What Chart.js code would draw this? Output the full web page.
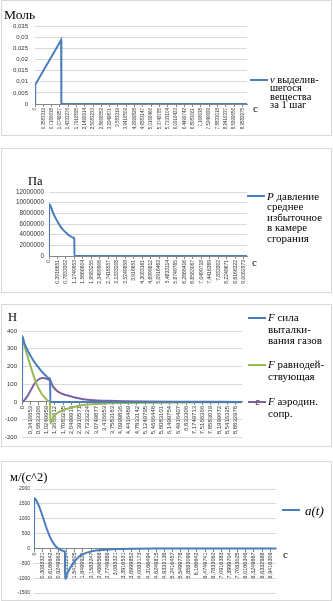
<!DOCTYPE html>
<html>
<head>
<meta charset="utf-8">
<script src="https://cdn.jsdelivr.net/npm/chart.js@4.4.0/dist/chart.umd.min.js"></script>
<style>
  body { margin: 0; width: 333px; height: 601px; background: #fff; position: relative; overflow: hidden; }
  .panel { position: absolute; border: 1px solid #d9d9d9; background: #fff; }
  .panel canvas { position: absolute; left: 0; top: 0; }
  .dash { position: absolute; width: 18px; height: 2px; }
  .txt { position: absolute; white-space: nowrap; font-family: "Liberation Serif", serif; color: #000; }
  .txt i { font-style: italic; }
</style>
</head>
<body>
<div class="panel" id="p1" style="left:1px;top:0;width:329px;height:134px"><canvas id="c1" width="329" height="134"></canvas></div>
<div class="panel" id="p2" style="left:1px;top:148px;width:329px;height:143px"><canvas id="c2" width="329" height="143"></canvas></div>
<div class="panel" id="p3" style="left:1px;top:304px;width:329px;height:141px"><canvas id="c3" width="329" height="141"></canvas></div>
<div class="panel" id="p4" style="left:1px;top:461px;width:329px;height:138px"><canvas id="c4" width="329" height="138"></canvas></div>
<script>
// last time step of the calculation, s
const T_END = 9.1583;

// time labels shown under each axis
const tLabels1 = ['0', '0,3583319', '0,7166638', '1,0749957', '1,4333276', '1,7916595', '2,1499914',
  '2,5083233', '2,8666552', '3,2249871', '3,583319', '3,9416509', '4,2999828', '4,6583147', '5,0166466',
  '5,3749785', '5,7333104', '6,0916423', '6,4499742', '6,8083061', '7,166638', '7,5249699', '7,8833018',
  '8,2416337', '8,5999656', '8,9582975'];
const tLabels2 = ['0', '0,3916651', '0,7833302', '1,1749953', '1,5666604', '1,9583255', '2,3499906',
  '2,7416557', '3,1333208', '3,5249859', '3,916651', '4,3083161', '4,6999812', '5,0916463', '5,4833114',
  '5,8749765', '6,2666416', '6,6583067', '7,0499718', '7,4416369', '7,833302', '8,2249671', '8,6166322',
  '9,0082973'];
const tLabels3 = ['0', '0,3416653', '0,6833306', '1,0249959', '1,3666612', '1,7083265', '2,0499918',
  '2,3916571', '2,7333224', '3,0749877', '3,416653', '3,7583183', '4,0999836', '4,4416489', '4,7833142',
  '5,1249795', '5,4666448', '5,8083101', '6,1499754', '6,4916407', '6,833306', '7,1749713', '7,5166366',
  '7,8583019', '8,1999672', '8,5416325', '8,8832978'];
const tLabels4 = ['0', '0,3083321', '0,6166642', '0,9249963', '1,2333284', '1,5416605', '1,8499926',
  '2,1583247', '2,4666568', '2,7749889', '3,083321', '3,3916531', '3,6999852', '4,0083173', '4,3166494',
  '4,6249815', '4,9333136', '5,2416457', '5,5499778', '5,8583099', '6,166642', '6,4749741', '6,7833062',
  '7,0916383', '7,3999704', '7,7083025', '8,0166346', '8,3249667', '8,6332988', '8,9416309'];

// substance released per step, mol
const vT = [0, 0.0083, 1.13, 1.1383, T_END];
const vMol = [0, 0.0086, 0.0287, 0, 0];

// mean excess pressure in the chamber, Pa
const pT = [0, 0.0083, 0.1, 0.2, 0.3, 0.4, 0.5, 0.6, 0.7, 0.8, 0.9, 1.0, 1.1, 1.17, 1.1783, T_END];
const pPa = [0, 9750000, 9100000, 8000000, 7150000, 6400000, 5700000, 5150000, 4700000, 4300000,
  3950000, 3700000, 3450000, 3300000, 0, 0];

// forces, N
const fT = [0, 0.0083, 0.1, 0.2, 0.3, 0.4, 0.5, 0.6, 0.7, 0.8, 0.9, 1.0, 1.1, 1.17, 1.1783,
  1.3, 1.5, 1.7, 1.9, 2.2, 2.5, 3.0, 3.6, 4.3, 5.2, 6.5, T_END];
const fThrust = [0, 370, 330, 300, 273, 250, 228, 209, 192, 175, 160, 147, 136, 128, 0,
  0, 0, 0, 0, 0, 0, 0, 0, 0, 0, 0, 0];
const fResult = [0, 372, 318, 272, 226, 182, 140, 103, 74, 50, 31, 16, 6, 2, -122,
  -87, -60, -47, -38, -27, -19, -12, -8, -5.5, -4, -3, -2.3];
const fDrag = [0, 0, 10, 27, 50, 75, 98, 116, 128, 134, 135, 132, 126, 121, 120,
  85, 58, 45, 36, 25, 17, 10, 6, 3.5, 2, 1, 0.3];

// acceleration, m/s^2
const aT = [0, 0.0083, 0.1, 0.2, 0.3, 0.4, 0.5, 0.6, 0.7, 0.8, 0.9, 1.0, 1.1, 1.17, 1.1783,
  1.25, 1.35, 1.5, 1.7, 1.9, 2.2, 2.6, 3.1, 3.8, 4.6, 6.0, T_END];
const aVal = [0, 1700, 1590, 1400, 1150, 880, 620, 400, 225, 95, 10, -40, -80, -110, -1040,
  -860, -680, -480, -280, -175, -95, -50, -20, -8, -3, -1, 0];

// legend captions: italic symbol + wrapped text
const vName = { sym: 'v', lines: ['выделив-', 'шегося', 'вещества', 'за 1 шаг'] };
const pName = { sym: 'P', lines: ['давление', 'среднее', 'избыточное', 'в камере', 'сгорания'] };
const thrustName = { sym: 'F', lines: ['сила', 'выталки-', 'вания газов'] };
const resultName = { sym: 'F', lines: ['равнодей-', 'ствующая'] };
const dragName = { sym: 'F', lines: ['аэродин.', 'сопр.'] };
const aName = { sym: 'a(t)', lines: [''] };

const BLUE = '#4A7EBB';
const GREEN = '#98B954';
const PURPLE = '#7D60A0';

const num = s => parseFloat(s.replace(',', '.'));
const comma = v => String(+v.toFixed(6)).replace('.', ',');

function series(name, xs, ys, color, smooth) {
  return {
    label: name.sym + ' ' + name.lines.join(' '),
    data: xs.map((x, i) => ({ x: x, y: ys[i] })),
    borderColor: color,
    backgroundColor: color,
    borderWidth: 2,
    pointRadius: 0,
    fill: false,
    cubicInterpolationMode: smooth ? 'monotone' : 'default',
    tension: 0
  };
}

// unit captions: y unit in the corner, x unit after the end of the time axis
const unitsPlugin = {
  id: 'units',
  afterDraw(chart, args, opts) {
    const ctx = chart.ctx;
    const y0 = chart.scales.y.getPixelForValue(0);
    ctx.save();
    ctx.fillStyle = '#000';
    ctx.font = opts.ySize + 'px "Liberation Serif"';
    ctx.textAlign = 'left';
    ctx.textBaseline = 'alphabetic';
    ctx.fillText(opts.yText, opts.yX, opts.yY);
    ctx.font = '11px "Liberation Serif"';
    ctx.textBaseline = 'middle';
    ctx.fillText('с', chart.chartArea.right + opts.xDx, y0 + opts.xDy);
    ctx.restore();
  }
};

function buildChart(id, o) {
  return new Chart(document.getElementById(id), {
    type: 'line',
    data: { datasets: o.datasets },
    plugins: [unitsPlugin],
    options: {
      responsive: false,
      animation: false,
      layout: { padding: o.padding },
      plugins: {
        legend: { display: false },
        tooltip: { enabled: false },
        units: o.units
      },
      scales: {
        x: {
          type: 'linear',
          position: o.xAtZero ? { y: 0 } : 'bottom',
          min: 0,
          max: T_END,
          afterBuildTicks: s => { s.ticks = o.tLabels.map(l => ({ value: num(l) })); },
          afterFit: s => { if (!o.xAtZero) s.height = o.xHeight; },
          ticks: {
            autoSkip: false,
            minRotation: 90,
            maxRotation: 90,
            padding: 1,
            color: '#333',
            font: { family: 'Liberation Sans', size: o.xFont },
            callback: (v, i) => o.tLabels[i]
          },
          grid: { drawOnChartArea: false, drawTicks: true, tickLength: 3, color: '#868686' },
          border: { color: '#868686', width: 1 }
        },
        y: {
          min: o.yMin,
          max: o.yMax,
          afterFit: s => { s.width = o.yWidth; },
          ticks: {
            stepSize: o.yStep,
            padding: o.yPad,
            color: '#333',
            font: { family: 'Liberation Sans', size: o.yFont },
            callback: v => comma(v)
          },
          grid: { color: '#d9d9d9', drawTicks: false },
          border: { display: false }
        }
      }
    }
  });
}

function addLegend(panelId, items, st) {
  const panel = document.getElementById(panelId);
  items.forEach(it => {
    const dash = document.createElement('div');
    dash.className = 'dash';
    dash.style.left = st.dashX + 'px';
    dash.style.top = (it.y - 1) + 'px';
    dash.style.background = it.color;
    panel.appendChild(dash);

    const txt = document.createElement('div');
    txt.className = 'txt';
    txt.style.left = st.textX + 'px';
    txt.style.top = (it.y - st.lh / 2) + 'px';
    txt.style.fontSize = st.size + 'px';
    txt.style.lineHeight = st.lh + 'px';
    it.name.lines.forEach((ln, i) => {
      const row = document.createElement('div');
      if (i === 0) {
        const sym = document.createElement('i');
        sym.textContent = it.name.sym;
        row.appendChild(sym);
        if (ln) row.appendChild(document.createTextNode(' ' + ln));
      } else {
        row.textContent = ln;
      }
      txt.appendChild(row);
    });
    panel.appendChild(txt);
  });
}

buildChart('c1', {
  datasets: [series(vName, vT, vMol, BLUE, false)],
  tLabels: tLabels1,
  padding: { left: 0, top: 25, right: 84, bottom: 0 },
  xHeight: 31, xFont: 4.5,
  yMin: 0, yMax: 0.035, yStep: 0.005, yWidth: 33, yPad: 7, yFont: 6,
  units: { yText: 'Моль', ySize: 13.5, yX: 2, yY: 18, xDx: 6, xDy: 5 }
});

buildChart('c2', {
  datasets: [series(pName, pT, pPa, BLUE, true)],
  tLabels: tLabels2,
  padding: { left: 0, top: 43, right: 84, bottom: 0 },
  xHeight: 36, xFont: 5,
  yMin: 0, yMax: 12000000, yStep: 2000000, yWidth: 47, yPad: 5, yFont: 6.3,
  units: { yText: 'Па', ySize: 12.5, yX: 26, yY: 36, xDx: 5, xDy: 7 }
});

buildChart('c3', {
  datasets: [
    series(thrustName, fT, fThrust, BLUE, true),
    series(resultName, fT, fResult, GREEN, true),
    series(dragName, fT, fDrag, PURPLE, true)
  ],
  tLabels: tLabels3,
  xAtZero: true,
  padding: { left: 0, top: 26, right: 89, bottom: 5 },
  xFont: 6,
  yMin: -200, yMax: 400, yStep: 100, yWidth: 20, yPad: 5, yFont: 6,
  units: { yText: 'Н', ySize: 12.5, yX: 6, yY: 16, xDx: 13, xDy: 0 }
});

buildChart('c4', {
  datasets: [series(aName, aT, aVal, BLUE, true)],
  tLabels: tLabels4,
  xAtZero: true,
  padding: { left: 0, top: 27, right: 55, bottom: 4 },
  xFont: 5.5,
  yMin: -1500, yMax: 2000, yStep: 500, yWidth: 32, yPad: 4, yFont: 5,
  units: { yText: 'м/(с^2)', ySize: 12.5, yX: 8, yY: 19, xDx: 7, xDy: 7 }
});

addLegend('p1', [{ name: vName, color: BLUE, y: 79 }], { dashX: 248, textX: 268, size: 10.5, lh: 8.5 });
addLegend('p2', [{ name: pName, color: BLUE, y: 47 }], { dashX: 245, textX: 265, size: 11, lh: 10.5 });
addLegend('p3', [
  { name: thrustName, color: BLUE, y: 13 },
  { name: resultName, color: GREEN, y: 60 },
  { name: dragName, color: PURPLE, y: 97 }
], { dashX: 246, textX: 266, size: 11, lh: 11.5 });
addLegend('p4', [{ name: aName, color: BLUE, y: 48 }], { dashX: 280, textX: 303, size: 13, lh: 13 });
</script>
</body>
</html>
